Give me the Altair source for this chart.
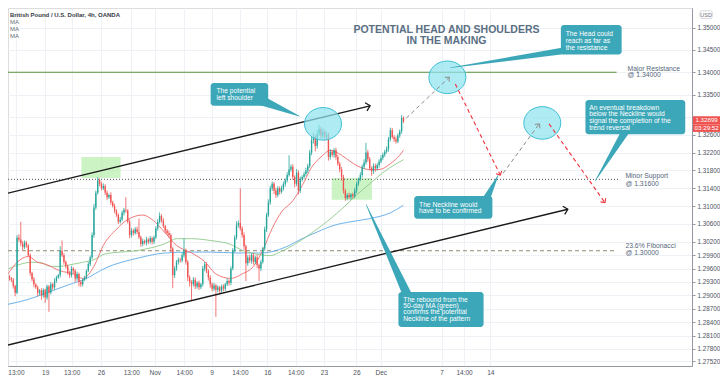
import altair as alt
import pandas as pd

# ---------------- data ----------------
BAR0 = -19            # index of first visible 4h bar (0 = Mon 19 Oct 00:00)
FIRST_OPEN = 1.2942
closes = [
    1.2938, 1.2934, 1.2921, 1.2906, 1.3029, 1.3025, 1.3016, 1.3008, 1.3018, 1.3012,
    1.2990, 1.2950, 1.2936, 1.2925, 1.2918, 1.2906, 1.2911, 1.2900, 1.2912, 1.2895,
    1.2920, 1.2906, 1.2925, 1.2918, 1.2932, 1.2940, 1.2945, 1.3000, 1.2990, 1.2975,
    1.2965, 1.2950, 1.2945, 1.2960, 1.2955, 1.2938, 1.2948, 1.2930, 1.2925, 1.2935,
    1.2940, 1.2955, 1.2970, 1.2985, 1.3035, 1.3097, 1.3130, 1.3158, 1.3150, 1.3140,
    1.3145, 1.3130, 1.3120, 1.3125, 1.3108, 1.3100, 1.3090, 1.3080, 1.3065, 1.3070,
    1.3085, 1.3092, 1.3090, 1.3065, 1.3035, 1.3045, 1.3040, 1.3048, 1.3042, 1.3030,
    1.3015, 1.3022, 1.3018, 1.3025, 1.3020, 1.3028, 1.3020, 1.3030, 1.3050, 1.3065,
    1.3078, 1.3068, 1.3055, 1.3045, 1.3040, 1.3035, 1.3005, 1.2945, 1.2960, 1.2975,
    1.2980, 1.2978, 1.2990, 1.3000, 1.2975, 1.2940, 1.2930, 1.2925, 1.2935, 1.2920,
    1.2928, 1.2918, 1.2925, 1.2960, 1.2970, 1.2955, 1.2940, 1.2925, 1.2915, 1.2922,
    1.2912, 1.2918, 1.2910, 1.2920, 1.2915, 1.2925, 1.2932, 1.2928, 1.2960, 1.3000,
    1.3030, 1.3058, 1.3062, 1.3050, 1.3035, 1.3010, 1.2972, 1.2985, 1.2978, 1.2990,
    1.2975, 1.2985, 1.2968, 1.2960, 1.2975, 1.3005, 1.3048, 1.3080, 1.3108, 1.3140,
    1.3150, 1.3135, 1.3125, 1.3140, 1.3132, 1.3140, 1.3150, 1.3158, 1.3170, 1.3182,
    1.3188, 1.3165, 1.3150, 1.3175, 1.3135, 1.3160, 1.3165, 1.3172, 1.3180, 1.3190,
    1.3220, 1.3248, 1.3255, 1.3235, 1.3262, 1.3272, 1.3258, 1.3266, 1.3255, 1.3260,
    1.3210, 1.3222, 1.3215, 1.3225, 1.3210, 1.3195, 1.3182, 1.3165, 1.3135, 1.3118,
    1.3125, 1.3120, 1.3126, 1.3122, 1.3135, 1.3150, 1.3160, 1.3170, 1.3188, 1.3198,
    1.3220, 1.3205, 1.3185, 1.3178, 1.3190, 1.3185, 1.3192, 1.3200, 1.3208, 1.3215,
    1.3222, 1.3228, 1.3250, 1.3270, 1.3255, 1.3250, 1.3245, 1.3258, 1.3268, 1.3298,
    1.3290,
]
wick_up_pips = [
    4, 3, 5, 3, 6, 8, 40, 6, 5, 4,
    3, 4, 3, 5, 2, 4, 3, 5, 4, 3,
    4, 3, 5, 3, 6, 4, 3, 10, 23, 4,
    3, 4, 5, 6, 3, 4, 5, 3, 4, 3,
    4, 3, 5, 4, 6, 8, 5, 7, 4, 5,
    6, 4, 5, 3, 6, 4, 5, 3, 4, 6,
    5, 4, 28, 3, 5, 6, 4, 5, 6, 30,
    4, 5, 3, 6, 4, 5, 3, 4, 5, 6,
    8, 4, 5, 3, 4, 5, 4, 3, 5, 4,
    5, 4, 6, 27, 5, 4, 5, 4, 6, 5,
    4, 5, 3, 6, 5, 4, 3, 5, 4, 6,
    4, 5, 3, 4, 5, 3, 6, 4, 5, 6,
    5, 8, 6, 78, 5, 6, 4, 5, 6, 4,
    5, 4, 6, 3, 5, 4, 6, 5, 7, 6,
    5, 4, 6, 5, 4, 6, 5, 4, 6, 32,
    5, 6, 4, 8, 5, 6, 4, 5, 6, 5,
    6, 8, 10, 5, 8, 10, 6, 8, 5, 7,
    5, 6, 4, 5, 6, 5, 4, 6, 5, 4,
    4, 5, 3, 4, 6, 5, 4, 6, 5, 7,
    22, 6, 5, 4, 6, 5, 4, 5, 6, 5,
    4, 6, 5, 6, 5, 4, 6, 5, 4, 6, 3,
]
wick_dn_pips = [
    5, 4, 6, 8, 3, 5, 6, 7, 4, 5,
    4, 6, 5, 7, 4, 8, 6, 10, 5, 12,
    5, 43, 4, 6, 5, 4, 3, 5, 4, 6,
    5, 4, 6, 5, 7, 8, 5, 10, 6, 5,
    3, 4, 3, 5, 4, 6, 5, 4, 6, 5,
    4, 5, 6, 4, 5, 3, 6, 4, 5, 4,
    4, 6, 5, 4, 7, 5, 6, 4, 5, 4,
    6, 5, 4, 6, 5, 4, 6, 5, 4, 5,
    4, 5, 4, 6, 5, 6, 8, 29, 6, 5,
    6, 5, 4, 5, 6, 8, 10, 37, 5, 6,
    5, 6, 4, 5, 6, 5, 7, 8, 6, 5,
    60, 5, 7, 4, 6, 5, 4, 6, 5, 4,
    4, 5, 6, 5, 6, 8, 40, 6, 5, 7,
    6, 5, 7, 28, 5, 4, 5, 6, 4, 5,
    6, 8, 7, 5, 6, 4, 5, 6, 5, 4,
    5, 6, 8, 5, 9, 6, 5, 4, 5, 6,
    5, 6, 8, 12, 6, 5, 7, 6, 8, 6,
    8, 6, 5, 7, 6, 5, 6, 8, 7, 6,
    5, 4, 6, 5, 4, 6, 5, 4, 6, 5,
    5, 6, 5, 10, 6, 8, 5, 6, 4, 5,
    5, 4, 6, 5, 4, 6, 5, 4, 5, 6, 4,
]

# moving averages (bar index, price)
ma_red_i = [-19.8, -15, -9, -4, 0, 8, 15, 20, 26, 31, 38, 44, 52, 57, 64, 70, 78, 85, 91, 99,
            105, 111, 116, 121, 126, 132, 137, 142, 147, 152, 158, 163, 168, 173, 178, 184, 189, 191]
ma_red_p = [1.2948, 1.2974, 1.2987, 1.2974, 1.2970, 1.2955, 1.2948, 1.2938, 1.2965, 1.3012,
            1.3048, 1.3070, 1.3080, 1.3070, 1.3040, 1.3012, 1.2995, 1.2976, 1.2948, 1.2938,
            1.2948, 1.2965, 1.3001, 1.3050, 1.3087, 1.3112, 1.3146, 1.3187, 1.3210, 1.3225,
            1.3214, 1.3199, 1.3187, 1.3182, 1.3182, 1.3195, 1.3214, 1.3225]
ma_green_i = [-19.8, -13, -8, -3, 3, 8, 15, 20, 26, 32, 50, 64, 70, 78, 88, 99, 105, 112, 120, 126,
              133, 139, 147, 158, 166, 173, 181, 191]
ma_green_p = [1.2959, 1.2970, 1.2974, 1.2974, 1.2965, 1.2965, 1.2970, 1.2974, 1.2980, 1.2993,
              1.3001, 1.3016, 1.3027, 1.3027, 1.3023, 1.3014, 1.3001, 1.2993, 1.2989, 1.2999,
              1.3014, 1.3031, 1.3055, 1.3093, 1.3125, 1.3150, 1.3178, 1.3204]
ma_blue_i = [-19.8, -9, 1, 12, 22, 32, 50, 64, 78, 88, 102, 116, 128, 137, 145, 154, 163, 173, 184, 191]
ma_blue_p = [1.2880, 1.2891, 1.2906, 1.2923, 1.2938, 1.2961, 1.2984, 1.2995, 1.2997, 1.2997,
             1.2995, 1.2995, 1.3008, 1.3027, 1.3042, 1.3057, 1.3065, 1.3072, 1.3085, 1.3102]

# axes
x_tick_pos = [-15.6, 0, 14.1, 29.7, 45.9, 58.4, 74.1, 88.7, 103.8, 118.4, 133.5, 148.6, 165.9,
              178.9, 211.3, 223.3, 237.3]
x_tick_lab = ["13:00", "19", "13:00", "26", "13:00", "Nov", "14:00", "9", "14:00", "16", "14:00",
              "23", "26", "Dec", "7", "14:00", "14"]
y_ticks = [1.35, 1.345, 1.34, 1.335, 1.33, 1.326, 1.322, 1.318, 1.314, 1.31, 1.306, 1.302, 1.299,
           1.296, 1.293, 1.29, 1.287, 1.284, 1.281, 1.278, 1.2752]
y_tick_hidden = 1.33   # label covered by the last-price tag

# key levels
level_price = [1.34, 1.316, 1.30]
level_lab1 = ["Major Resistance", "Minor Support", "23.6% Fibonacci"]
level_lab2 = ["@ 1.34000", "@ 1.31600", "@ 1.30000"]

# annotation geometry (bar index / price)
X_DOM = [-19.82, 344.8]
Y_DOM = [1.27417, 1.3544]
level_end = [304.6, 305.7, 304.6]
level_lab_x = [310.4, 309.3, 309.3]
level_lab_y1 = [1.34078, 1.31674, 1.30099]
level_lab_y2 = [1.33929, 1.31503, 1.29950]

zone_x = [19.3, 152.8]; zone_x2 = [40.2, 174.2]
zone_y = [1.32099, 1.31631]; zone_y2 = [1.31631, 1.31141]

chan_x = [-19.82, 173.2, -19.82, 278.6]
chan_y = [1.31290, 1.33248, 1.27886, 1.30929]

ell_x = [148.1, 214.4, 265.0]
ell_y = [1.32844, 1.33887, 1.32865]

path_x = [192.5, 215.4, 218.6, 242.6, 244.1, 263.4, 268.6, 298.4]
path_y = [1.32972, 1.33887, 1.33738, 1.31695, 1.31737, 1.32844, 1.32844, 1.31078]
path_col = ["grey", "grey", "red", "red", "grey", "grey", "red", "red"]
path_id = [0, 0, 1, 1, 2, 2, 3, 3]
head_ang = [316.4, 63.7, 306.2, 54.8]

box_x = [88.2, 274.9, 288.0, 196.7, 188.3]
box_x2 = [118.9, 307.3, 341.2, 238.4, 233.7]
box_y = [1.33759, 1.35057, 1.33376, 1.31226, 1.29077]
box_y2 = [1.33248, 1.34397, 1.32610, 1.30716, 1.28290]
tail_tip_x = [135.6, 216.0, 293.2, 241.5, 171.1]
tail_tip_y = [1.33014, 1.34099, 1.31567, 1.31695, 1.31035]
tail_base_x = [114.8, 280.1, 309.9, 234.7, 193.0]
tail_base_y = [1.33376, 1.34504, 1.32716, 1.31120, 1.29014]
tail_w = [10, 7, 8, 8, 9]

note_lines = [
    ["The potential", "left shoulder"],
    ["The Head could", "reach as far as", "the resistance"],
    ["An eventual breakdown", "below the Neckline would", "signal the completion of the", "trend reversal"],
    ["The Neckline would", "have to be confirmed"],
    ["The rebound from the", "50-day MA (green)", "confirms the potential", "Neckline of the pattern"],
]
note_x = [91.3, 277.5, 290.0, 199.3, 190.9]
note_y = [
    [1.33589, 1.33418],
    [1.34865, 1.34706, 1.34546],
    [1.33206, 1.33057, 1.32908, 1.32759],
    [1.31035, 1.30886],
    [1.28907, 1.28769, 1.28630, 1.28481],
]

title_lines = ["POTENTIAL HEAD AND SHOULDERS", "IN THE MAKING"]
title_x = 213.9
title_y = [1.34951, 1.34695]

header_lines = ["British Pound / U.S. Dollar, 4h, OANDA", "MA", "MA", "MA"]
header_x = -18.78
header_y = [1.35291, 1.35121, 1.34972, 1.34823]

last_price = "1.32899"
countdown = "03:29:52"

# ---------------- build ----------------
W, H = 684, 358
FONT = "Liberation Sans"
XS = alt.Scale(domain=X_DOM, nice=False, zero=False)
YS = alt.Scale(domain=Y_DOM, nice=False, zero=False)

pos_js = "[" + ",".join(str(v) for v in x_tick_pos) + "]"
lab_js = "[" + ",".join("'" + s + "'" for s in x_tick_lab) + "]"
XAX = alt.Axis(values=x_tick_pos, labelExpr=f"{lab_js}[indexof({pos_js}, datum.value)]",
               grid=True, gridColor="#eef1f6", gridWidth=1, domainColor="#9598a1",
               ticks=False, labelFontSize=6.5, labelColor="#4c525e", labelFont=FONT,
               labelPadding=3, labelOverlap=False, labelFlush=False,
               minExtent=12, maxExtent=12, title=None)
YAX = alt.Axis(orient="right", values=y_ticks,
               labelExpr=f"datum.value == {y_tick_hidden} ? '' : format(datum.value, '.5f')",
               grid=True, gridColor="#eef1f6",
               gridWidth=1, domainColor="#9598a1", tickColor="#9598a1", tickSize=3,
               labelFontSize=6.3, labelColor="#4c525e", labelFont=FONT, labelPadding=2,
               labelOverlap=False, labelFlush=False, minExtent=28, maxExtent=28, title=None)


def base(df):
    return alt.Chart(df).encode(
        x=alt.X("x:Q", scale=XS, axis=XAX, title=None),
        y=alt.Y("y:Q", scale=YS, axis=YAX, title=None),
    )


n = len(closes)
opens = [FIRST_OPEN] + closes[:-1]
candles = pd.DataFrame({
    "x": [BAR0 + k for k in range(n)],
    "o": opens,
    "c": closes,
})
candles["y"] = [max(o, c) + u * 1e-4 for o, c, u in zip(opens, closes, wick_up_pips)]
candles["y2"] = [min(o, c) - d * 1e-4 for o, c, d in zip(opens, closes, wick_dn_pips)]
candles["dir"] = ["up" if c >= o else "down" for o, c in zip(opens, closes)]
ccol = alt.Color("dir:N", scale=alt.Scale(domain=["up", "down"], range=["#26a69a", "#ef5350"]), legend=None)

wicks = base(candles).mark_rule(strokeWidth=0.8).encode(y2="y2:Q", color=ccol)
bodies = alt.Chart(candles).mark_rule(strokeWidth=1.35).encode(
    x=alt.X("x:Q", scale=XS, axis=XAX, title=None),
    y=alt.Y("o:Q", scale=YS, axis=YAX, title=None),
    y2="c:Q", color=ccol)

zones = base(pd.DataFrame({"x": zone_x, "x2": zone_x2, "y": zone_y, "y2": zone_y2})).mark_rect(
    color="#b9efb0", opacity=0.75).encode(x2="x2:Q", y2="y2:Q")

lv = pd.DataFrame({"x": [X_DOM[0]] * 3, "x2": level_end, "y": level_price})
res_line = base(lv.iloc[[0]]).mark_rule(color="#5b8f3a", strokeWidth=1.2).encode(x2="x2:Q")
sup_line = base(lv.iloc[[1]]).mark_rule(color="#555555", strokeWidth=1, strokeDash=[1, 2]).encode(x2="x2:Q")
fib_line = base(lv.iloc[[2]]).mark_rule(color="#8e8b70", strokeWidth=1, strokeDash=[4, 3]).encode(x2="x2:Q")

ma_red = base(pd.DataFrame({"x": ma_red_i, "y": ma_red_p})).mark_line(color="#ef6a6a", strokeWidth=0.9, interpolate="monotone")
ma_green = base(pd.DataFrame({"x": ma_green_i, "y": ma_green_p})).mark_line(color="#8fc98a", strokeWidth=0.9, interpolate="monotone")
ma_blue = base(pd.DataFrame({"x": ma_blue_i, "y": ma_blue_p})).mark_line(color="#5ea9e6", strokeWidth=0.9, interpolate="monotone")

chan = base(pd.DataFrame({"x": chan_x, "y": chan_y, "id": [0, 0, 1, 1]})).mark_line(
    color="#1a1a1a", strokeWidth=1.4).encode(detail="id:N")
CHEV = "M-1,-1L0,0L-1,1"
chan_heads = base(pd.DataFrame({"x": [chan_x[1], chan_x[3]], "y": [chan_y[1], chan_y[3]], "a": [346.4, 346.3]})).mark_point(
    shape=CHEV, size=70, color="#1a1a1a", strokeWidth=1.3, filled=False, opacity=1).encode(angle=alt.Angle("a:Q", scale=None))

ELL = "M-1,0A1,0.88,0,1,1,1,0A1,0.88,0,1,1,-1,0Z"
ellipses = base(pd.DataFrame({"x": ell_x, "y": ell_y})).mark_point(
    shape=ELL, size=1370, filled=True, fill="#8fe3ef", fillOpacity=0.72, stroke="#3fc0d5",
    strokeWidth=1, opacity=1)

pdf = pd.DataFrame({"x": path_x, "y": path_y, "col": path_col, "id": path_id})
grey_path = base(pdf[pdf.col == "grey"]).mark_line(color="#8c8c8c", strokeWidth=1, strokeDash=[4, 3]).encode(detail="id:N")
red_path = base(pdf[pdf.col == "red"]).mark_line(color="#f0323c", strokeWidth=1.1, strokeDash=[4, 3]).encode(detail="id:N")
ends = pd.DataFrame({"x": path_x[1::2], "y": path_y[1::2], "a": head_ang, "col": path_col[1::2]})
grey_heads = base(ends[ends.col == "grey"]).mark_point(shape=CHEV, size=40, color="#8c8c8c", strokeWidth=1, opacity=1).encode(angle=alt.Angle("a:Q", scale=None))
red_heads = base(ends[ends.col == "red"]).mark_point(shape=CHEV, size=40, color="#f0323c", strokeWidth=1.1, opacity=1).encode(angle=alt.Angle("a:Q", scale=None))

TEAL = "#3ca7b8"
trows = []
for k in range(len(tail_w)):
    trows.append({"x": tail_tip_x[k], "y": tail_tip_y[k], "w": 0.5, "k": 0, "id": k})
    trows.append({"x": tail_base_x[k], "y": tail_base_y[k], "w": tail_w[k], "k": 1, "id": k})
tails = base(pd.DataFrame(trows)).mark_trail(color=TEAL).encode(
    size=alt.Size("w:Q", scale=None, legend=None), detail="id:N", order="k:Q")
boxes = base(pd.DataFrame({"x": box_x, "x2": box_x2, "y": box_y, "y2": box_y2})).mark_rect(
    color=TEAL, cornerRadius=3).encode(x2="x2:Q", y2="y2:Q")
nrows = []
for k, lines in enumerate(note_lines):
    for j, t in enumerate(lines):
        nrows.append({"x": note_x[k], "y": note_y[k][j], "t": t})
notes = base(pd.DataFrame(nrows)).mark_text(align="left", baseline="middle", color="white",
                                            fontSize=6.7, font=FONT).encode(text="t:N")

lrows = []
for k in range(3):
    lrows.append({"x": level_lab_x[k], "y": level_lab_y1[k], "t": level_lab1[k]})
    lrows.append({"x": level_lab_x[k], "y": level_lab_y2[k], "t": level_lab2[k]})
level_text = base(pd.DataFrame(lrows)).mark_text(align="left", baseline="middle", color="#56677c",
                                                 fontSize=6.8, font=FONT).encode(text="t:N")

title = base(pd.DataFrame({"x": [title_x] * 2, "y": title_y, "t": title_lines})).mark_text(
    align="center", baseline="middle", color="#5a6e83", fontSize=10.5, fontWeight="bold", font=FONT).encode(text="t:N")

hdr = pd.DataFrame({"x": [header_x] * 4, "y": header_y, "t": header_lines})
hdr1 = base(hdr.iloc[[0]]).mark_text(align="left", baseline="middle", color="#363a45", fontSize=6,
                                     fontWeight="bold", font=FONT).encode(text="t:N")
hdr2 = base(hdr.iloc[1:]).mark_text(align="left", baseline="middle", color="#6a6d78", fontSize=6,
                                    font=FONT).encode(text="t:N")

price_box = base(pd.DataFrame({"x": [345.3, 345.3], "x2": [359.9, 359.9], "y": [1.33014, 1.32833],
                               "y2": [1.32833, 1.32663]})).mark_rect(color="#ef5350").encode(x2="x2:Q", y2="y2:Q")
price_txt = base(pd.DataFrame({"x": [352.6, 352.6], "y": [1.32925, 1.32748], "t": [last_price, countdown]})).mark_text(
    align="center", baseline="middle", color="white", fontSize=6.2, font=FONT).encode(text="t:N")
usd_box = base(pd.DataFrame({"x": [349.0], "x2": [355.6], "y": [1.35376], "y2": [1.35206]})).mark_rect(
    fill="white", stroke="#c9cbd1", strokeWidth=0.8, cornerRadius=2).encode(x2="x2:Q", y2="y2:Q")
usd_txt = base(pd.DataFrame({"x": [352.3], "y": [1.35291], "t": ["USD"]})).mark_text(
    align="center", baseline="middle", color="#6a6d78", fontSize=5.5, font=FONT).encode(text="t:N")

chart = alt.layer(
    zones, res_line, sup_line, fib_line, ma_blue, ma_green, ma_red, wicks, bodies,
    chan, chan_heads, ellipses, grey_path, red_path, grey_heads, red_heads,
    tails, boxes, notes, level_text, title, hdr1, hdr2, price_box, price_txt, usd_box, usd_txt,
).properties(
    width=W, height=H,
    padding={"left": 0, "top": 0, "right": 28, "bottom": 12},
    autosize=alt.AutoSizeParams(type="none"),
).configure_view(stroke=None).configure(background="white")

chart.save("out.html", embed_options={"renderer": "svg", "actions": False})
